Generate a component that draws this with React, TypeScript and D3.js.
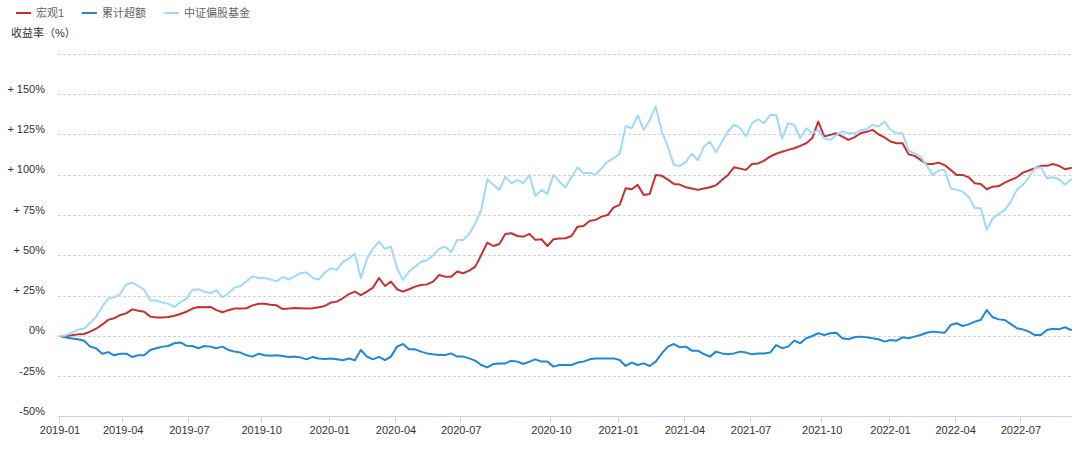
import React from 'react';
import * as d3 from 'd3';

// Observation step between samples (category axis of trading observations)
const STEP = 6;

// 宏观1 (%)
const macro1 = [
  0, 0, 0.4, 1, 1.2, 2.7, 4.5, 7, 10, 11, 13, 14, 16.5, 15.7, 15, 12, 11.4, 11.4, 11.8, 12.6,
  13.6, 15, 17, 18, 17.8, 18, 16, 14.7, 16, 17, 17, 17.2, 19, 20, 20, 19.4, 19, 16.7, 17, 17.4,
  17.2, 17, 17.2, 17.8, 18.6, 20.7, 21.3, 23.4, 26, 27.5, 25.4, 27.5, 30, 36, 31, 33.7, 29, 27.5, 29, 30.6,
  31.6, 32, 33.7, 37.8, 36.8, 36.8, 40, 38.9, 40.5, 43, 50.2, 57.9, 55.8, 57, 63.3, 63.7, 62, 61.6, 63.3, 59.6,
  60, 55.8, 60, 60.4, 60.6, 62, 67.8, 68.2, 71.3, 72, 74, 75, 79.8, 81.3, 91.6, 91, 93.7, 87.5, 88.1, 99.9,
  99.3, 97, 94.3, 93.9, 92.2, 91.4, 90.6, 91.4, 92.2, 93.5, 96.8, 99.9, 104.6, 103.8, 103, 106.7, 107, 108.8, 111.2, 113,
  114.3, 115.4, 116.4, 117.9, 119.5, 122.6, 133, 123.7, 124.7, 125.7, 123.7, 121.6, 123.2, 125.7, 126.6, 127.8, 125.1, 123.2, 120.6, 119.5,
  119.5, 112.7, 111.7, 109.2, 106.7, 106.7, 107.5, 106, 103, 99.9, 99.9, 98.4, 94.7, 94.3, 91, 92.6, 93, 95.1, 96.8, 98.4,
  101.3, 102.6, 104, 105.5, 105.5, 106.7, 105.5, 103.4, 104.2,
];

// 累计超额 (%)
const excess = [
  0, -1, -1.5, -2, -3, -6.6, -7.6, -11, -10, -12, -11, -11, -13, -12, -12, -8.7, -7.6, -6.6, -6.2, -4.5,
  -4, -6, -6.2, -7.6, -6.2, -6.6, -7.6, -6.6, -8.7, -9.7, -10.3, -12, -12.8, -11, -12, -12.2, -12, -12.4, -13, -12.8,
  -13.4, -14.5, -13, -14, -14.3, -14, -14.5, -15, -14, -15, -8.7, -12.8, -14.5, -13, -15, -12.8, -6.6, -5, -8.3, -8.3,
  -9.7, -10.8, -11.4, -11.8, -11.8, -10.8, -12.8, -12.8, -13.9, -15.3, -18, -19.5, -17.4, -17, -17, -15.3, -15.9, -17.4, -15.9, -14.5,
  -15.9, -15.9, -19, -18, -18, -18, -16.5, -15.9, -14.5, -13.9, -13.9, -13.9, -13.9, -14.9, -18.6, -16.5, -18, -17, -18.6, -15.9,
  -10.8, -6.6, -5, -7, -6.6, -9.1, -9.1, -11.2, -12.8, -9.7, -10.8, -11.4, -10.8, -9.7, -10.3, -11.4, -10.8, -10.8, -10.3, -5.6,
  -7.6, -6.6, -2.9, -4.5, -1.4, 0, 1.7, 0.6, 1.7, 2, -1.4, -2, -0.8, -0.4, -0.8, -1.4, -2, -3.5, -2.5, -2.9,
  -0.8, -1.4, -0.4, 0.6, 2, 2.7, 2.3, 2, 6.8, 7.9, 6.2, 7.2, 8.9, 9.9, 16.1, 11.6, 10.3, 9.9, 7.4, 4.8,
  4.1, 2.7, 0.6, 0.6, 3.7, 4.5, 4.1, 5.4, 3.7,
];

// 中证偏股基金 (%)
const fundIndex = [
  0, 0.5, 2, 4, 4.5, 8, 12, 18, 23, 24, 26, 32, 33, 31, 28.5, 22, 22, 20.7, 20, 18,
  21, 23, 28.5, 29, 27.5, 26.5, 28.5, 24, 26.5, 30, 31, 34, 37, 36, 36, 35, 34, 36.6, 35, 37,
  39, 39.3, 36, 35, 39.3, 42, 41, 46, 48, 51, 36, 48, 54, 58.5, 54, 55.4, 42, 34.7, 40, 43,
  46, 47, 50, 54, 55.4, 52, 59.5, 59.5, 63.3, 69.9, 78.2, 97.2, 93.7, 90.6, 98.8, 94.7, 96.8, 94.7, 99.9, 86.8,
  90.6, 88.1, 99.9, 95.7, 92.2, 98.4, 104.6, 100.9, 101.3, 99.9, 104, 108.1, 110.2, 112.9, 130.3, 128.8, 137, 127.8, 134, 142.3,
  126.8, 117.5, 106, 105.5, 108, 113, 109, 117.5, 120.5, 114, 120.5, 126.8, 131, 129, 123.7, 132, 134.4, 132, 137, 137,
  122.6, 132, 131, 122.6, 128.8, 125.7, 127.8, 122.6, 121.6, 124.7, 126.8, 125.7, 125.7, 127.4, 128.2, 130.9, 129.9, 133, 127.8, 125.7,
  125.7, 115, 113.3, 111.2, 106, 99.9, 102.6, 103, 91.6, 90.6, 89.5, 86.4, 79.2, 79.2, 65.8, 73, 75.7, 78.2, 83.3, 90.6,
  93.7, 98.4, 104, 104.6, 97.8, 98.4, 97.2, 93.7, 97.2,
];

const seriesNames = ['宏观1', '累计超额', '中证偏股基金'];
const seriesColors = ['#c8302f', '#1f87d8', '#9fd8fd'];

const tickLabels = [
  '2019-01', '2019-04', '2019-07', '2019-10', '2020-01', '2020-04', '2020-07', '2020-10',
  '2021-01', '2021-04', '2021-07', '2021-10', '2022-01', '2022-04', '2022-07',
];
// observation index at which each quarter starts
const tickIndex = [0, 63, 129, 201, 269, 335, 400, 490, 557, 623, 689, 760, 828, 893, 958];

const yGridTicks = [-25, 0, 25, 50, 75, 100, 125, 150, 175];
const yLabelTicks = [-50, -25, 0, 25, 50, 75, 100, 125, 150];

const FONT = '"Liberation Sans", Arial, "Noto Sans CJK SC", sans-serif';

function fmtY(v: number) {
  if (v > 0) return `+ ${v}%`;
  return `${v}%`;
}

export default function App() {
  const W = 1080;
  const H = 450;
  const n = macro1.length;
  const x = d3.scaleLinear().domain([0, (n - 1) * STEP]).range([60, 1071]);
  const y = d3.scaleLinear().domain([-50, 175]).range([416.6, 53.8]);
  const line = d3
    .line<number>()
    .x((_, i) => x(i * STEP))
    .y((d) => y(d));
  const data = [macro1, excess, fundIndex];
  const plotLeft = 58;
  const plotRight = 1072;

  const legendX = [16, 82, 164];

  return (
    <svg
      width={W}
      height={H}
      style={{ position: 'absolute', left: 0, top: 0, display: 'block', background: '#fff' }}
      fontFamily={FONT}
    >
      <rect x={0} y={0} width={W} height={H} fill="#fff" />
      {/* legend */}
      {seriesNames.map((name, i) => (
        <g key={name}>
          <line x1={legendX[i]} x2={legendX[i] + 15} y1={13} y2={13} stroke={seriesColors[i]} strokeWidth={2} />
          <text x={legendX[i] + 20} y={17} fontSize={11} fill="#666">
            {name}
          </text>
        </g>
      ))}
      <text x={11} y={37} fontSize={11} fill="#333">
        收益率（%）
      </text>

      {/* grid */}
      {yGridTicks.map((t) => (
        <line
          key={t}
          x1={plotLeft}
          x2={plotRight}
          y1={Math.round(y(t)) + 0.5}
          y2={Math.round(y(t)) + 0.5}
          stroke="#d2d2d2"
          strokeWidth={1}
          strokeDasharray="3,2"
        />
      ))}
      {yLabelTicks.map((t) => (
        <text key={t} x={45} y={y(t) - 1.5} fontSize={11} fill="#333" textAnchor="end">
          {fmtY(t)}
        </text>
      ))}

      {/* x axis */}
      <line x1={plotLeft} x2={plotRight} y1={416.5} y2={416.5} stroke="#ccd6eb" strokeWidth={1} />
      {tickIndex.map((t, i) => (
        <g key={tickLabels[i]}>
          <line
            x1={Math.round(x(t)) - 0.5}
            x2={Math.round(x(t)) - 0.5}
            y1={417}
            y2={423}
            stroke="#ccd6eb"
            strokeWidth={1}
          />
          <text x={x(t)} y={434} fontSize={11} fill="#333" textAnchor="middle">
            {tickLabels[i]}
          </text>
        </g>
      ))}

      {/* series */}
      {data.map((s, i) => (
        <path
          key={seriesNames[i]}
          d={line(s) || ''}
          fill="none"
          stroke={seriesColors[i]}
          strokeWidth={2}
          strokeLinejoin="round"
          strokeLinecap="round"
        />
      ))}
    </svg>
  );
}
